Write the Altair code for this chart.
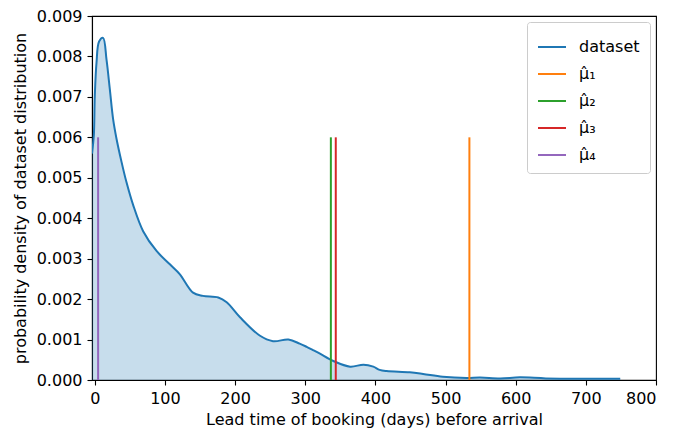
import altair as alt
import pandas as pd

# KDE curve of the dataset
kde_x = [-4, -1.4, 0, 2.4, 6.1, 11.8, 16.7, 21.4, 26.1, 31, 38, 45, 54.6, 68.9, 88, 107,
         121, 140, 154, 176, 188, 207, 235, 254, 276, 292, 302, 311, 321, 340, 364, 383,
         397, 406, 416, 449, 468, 496, 530, 549, 578, 606, 643, 700, 749]
kde_y = [0.0056, 0.00605, 0.00703, 0.00784, 0.00837, 0.00846, 0.00792, 0.00719, 0.00645,
         0.00596, 0.0054, 0.0049, 0.00433, 0.00368, 0.00319, 0.00286, 0.00262, 0.00216,
         0.00208, 0.00204, 0.00192, 0.00155, 0.0011, 0.00096, 0.00100, 0.0009, 0.00082,
         0.00074, 0.00065, 0.00047, 0.00033, 0.00038, 0.00033, 0.00025, 0.00022, 0.00019,
         0.00015, 0.00008, 0.00005, 0.00006, 0.00004, 0.000065, 0.00004, 0.00003, 0.00003]

# estimated means
mu_labels = ["\u03bc\u0302\u2081", "\u03bc\u0302\u2082", "\u03bc\u0302\u2083", "\u03bc\u0302\u2084"]
mu_values = [534, 336.5, 343.5, 4.7]
mu_height = 0.006

series_names = ["dataset"] + mu_labels
series_colors = ["#1f77b4", "#ff7f0e", "#2ca02c", "#d62728", "#9467bd"]

kde_df = pd.DataFrame({"x": kde_x, "y": kde_y, "series": "dataset"})
mu_df = pd.DataFrame({"x": mu_values, "y": 0.0, "y2": mu_height, "series": mu_labels})

FONT = "DejaVu Sans"

xscale = alt.Scale(domain=[-4, 800], nice=False, zero=False)
yscale = alt.Scale(domain=[0, 0.009], nice=False)
color = alt.Color("series:N",
                  scale=alt.Scale(domain=series_names, range=series_colors),
                  legend=alt.Legend(title=None, orient="top-right", offset=6,
                                    symbolType="stroke", symbolSize=784,
                                    symbolStrokeWidth=2, labelFontSize=16,
                                    labelFont=FONT, labelColor="#000",
                                    rowPadding=4, padding=10, labelOffset=12,
                                    strokeColor="#cccccc", fillColor="white",
                                    cornerRadius=3, labelLimit=200))

xaxis = alt.Axis(title="Lead time of booking (days) before arrival",
                 values=list(range(0, 801, 100)), format="d", grid=False,
                 tickSize=5, labelPadding=5, titlePadding=5)
yaxis = alt.Axis(title="probability density of dataset distribution",
                 values=[i / 1000 for i in range(0, 10)], format=".3f", grid=False,
                 tickSize=5, labelPadding=5, titlePadding=8)

area = alt.Chart(kde_df).mark_area(color="#1f77b4", opacity=0.25, clip=True,
                                   interpolate="catmull-rom").encode(
    x=alt.X("x:Q", scale=xscale, axis=xaxis),
    y=alt.Y("y:Q", scale=yscale, axis=yaxis),
)
line = alt.Chart(kde_df).mark_line(strokeWidth=2, clip=True,
                                   interpolate="catmull-rom").encode(
    x=alt.X("x:Q", scale=xscale),
    y=alt.Y("y:Q", scale=yscale),
    color=color,
)
rules = alt.Chart(mu_df).mark_rule(strokeWidth=2).encode(
    x=alt.X("x:Q", scale=xscale),
    y=alt.Y("y:Q", scale=yscale),
    y2="y2:Q",
    color=color,
)

chart = alt.layer(area, line, rules).properties(
    width=564, height=364,
    autosize=alt.AutoSizeParams(type="none"),
    padding={"left": 84, "top": 8, "right": 10, "bottom": 50},
).configure_view(
    stroke="#000", strokeWidth=1.1
).configure_axis(
    labelFont=FONT, titleFont=FONT, labelFontSize=16, titleFontSize=16,
    titleFontWeight="normal", labelColor="#000", titleColor="#000",
    domainColor="#000", tickColor="#000", domainWidth=1.1, tickWidth=1.1,
)

chart.save("out.html", embed_options={"renderer": "svg", "actions": False})
